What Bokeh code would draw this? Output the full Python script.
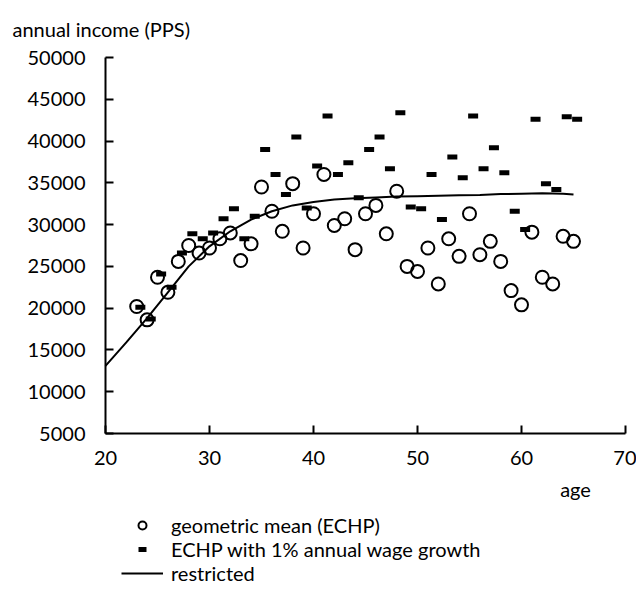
from bokeh.plotting import figure
from bokeh.models import Legend, LegendItem, Label, FixedTicker, Range1d, ColumnDataSource
from bokeh.transform import dodge
from bokeh.embed import file_html
from bokeh.resources import INLINE

# ---- data ----
ages = list(range(23, 66))
geo_mean = [20200, 18600, 23700, 21900, 25600, 27500, 26600, 27200, 28300, 29000,
            25700, 27700, 34500, 31600, 29200, 34900, 27200, 31300, 36000, 29900,
            30700, 27000, 31300, 32300, 28900, 34000, 25000, 24400, 27200, 22900,
            28300, 26200, 31300, 26400, 28000, 25600, 22100, 20400, 29100, 23700,
            22900, 28600, 28000]
wage_growth = [20100, 18700, 24100, 22500, 26600, 28900, 28300, 29000, 30700, 31900,
               28300, 31000, 39000, 36000, 33600, 40500, 32000, 37000, 43000, 36000,
               37400, 33200, 39000, 40500, 36700, 43400, 32100, 31900, 36000, 30600,
               38100, 35600, 43000, 36700, 39200, 36200, 31600, 29400, 42600, 34900,
               34200, 42900, 42600]
line_ages = [20, 22, 24, 26, 28, 30, 32, 34, 36, 38, 40, 42, 44, 46, 48, 50, 52, 54,
             56, 58, 60, 62, 64, 65]
restricted = [13100, 15900, 18800, 21900, 25000, 27400, 29200, 30600, 31600, 32300,
              32700, 33000, 33150, 33250, 33350, 33400, 33450, 33500, 33550, 33650,
              33700, 33750, 33700, 33600]
x_ticks = [20, 30, 40, 50, 60, 70]
y_ticks = [5000, 10000, 15000, 20000, 25000, 30000, 35000, 40000, 45000, 50000]
y_tick_labels = [str(v) for v in y_ticks]

FONT = "Lato"
FS = "20px"

# ---- layout (pixels) ----
W, H = 636, 586
AX_L, AX_R, AX_T, AX_B = 105, 625, 57, 433   # axis box in page pixels
x_lo, x_hi = x_ticks[0], x_ticks[-1]
y_lo, y_hi = y_ticks[0], y_ticks[-1]
xs = (x_hi - x_lo) / (AX_R - AX_L)
ys = (y_hi - y_lo) / (AX_B - AX_T)
x_range = Range1d(x_lo - AX_L * xs, x_hi + (W - AX_R) * xs)
y_range = Range1d(y_lo - (H - AX_B) * ys, y_hi + AX_T * ys)

pts = ColumnDataSource(dict(age=ages, geo=geo_mean, wage=wage_growth))

p = figure(width=W, height=H, x_range=x_range, y_range=y_range,
           output_backend="svg", toolbar_location=None, min_border=0)
p.xgrid.visible = False
p.ygrid.visible = False
p.outline_line_color = None
p.background_fill_color = "white"
p.border_fill_color = "white"

xa, ya = p.xaxis[0], p.yaxis[0]
xa.fixed_location = y_lo
ya.fixed_location = x_lo
xa.bounds = (x_lo, x_hi)
ya.bounds = (y_lo, y_hi)
for ax in (xa, ya):
    ax.axis_line_width = 2
    ax.axis_line_color = "black"
    ax.major_tick_line_width = 2
    ax.major_tick_line_color = "black"
    ax.major_tick_in = 8
    ax.major_tick_out = 0
    ax.minor_tick_line_color = None
    ax.major_label_text_font = FONT
    ax.major_label_text_font_size = FS
    ax.major_label_text_color = "black"

xa.ticker = FixedTicker(ticks=x_ticks)
ya.ticker = FixedTicker(ticks=y_ticks)
ya.major_label_overrides = {v: s for v, s in zip(y_ticks, y_tick_labels)}
xa.major_label_standoff = 17
ya.major_label_standoff = 20

r_line = p.line(line_ages, restricted, line_color="black", line_width=2)
r_circ = p.scatter("age", "geo", source=pts, marker="circle", size=13,
                   fill_color=None, line_color="black", line_width=2)
r_dash = p.scatter(dodge("age", 0.35), "wage", source=pts, marker="dash", size=10,
                   line_color="black", line_width=5)

legend = Legend(items=[LegendItem(label="geometric mean (ECHP)", renderers=[r_circ]),
                       LegendItem(label="ECHP with 1% annual wage growth", renderers=[r_dash]),
                       LegendItem(label="restricted", renderers=[r_line])],
                location=(121, H - 585), orientation="vertical",
                glyph_width=42, glyph_height=20, spacing=0, padding=0, margin=0,
                label_standoff=8, label_text_font=FONT, label_text_font_size=FS,
                label_text_color="black", border_line_color=None,
                background_fill_alpha=0)
p.add_layout(legend, "center")

p.add_layout(Label(x=575, y=H - 488, x_units="screen", y_units="screen", text="age",
                   text_font=FONT, text_font_size=FS, text_align="center",
                   text_baseline="middle", text_color="black"))
p.add_layout(Label(x=12, y=H - 28, x_units="screen", y_units="screen",
                   text="annual income (PPS)", text_font=FONT, text_font_size=FS,
                   text_align="left", text_baseline="middle", text_color="black"))

open("out.html", "w").write(file_html(p, INLINE))
